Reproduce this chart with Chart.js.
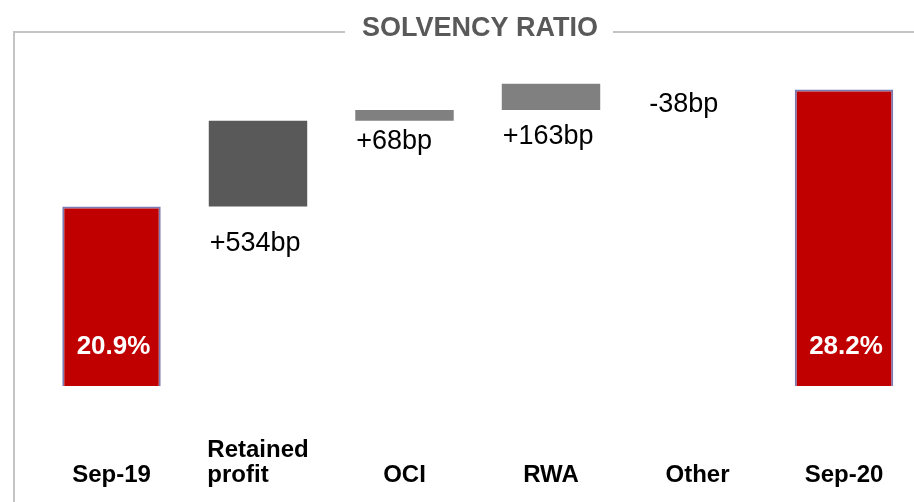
<!DOCTYPE html>
<html>
<head>
<meta charset="utf-8">
<title>Solvency ratio</title>
<script src="https://cdn.jsdelivr.net/npm/chart.js@4.4.1/dist/chart.umd.min.js"></script>
<style>
  html, body { margin: 0; padding: 0; background: #ffffff; }
  #wrap { position: relative; width: 914px; height: 502px; }
</style>
</head>
<body>
<div id="wrap"><canvas id="chart"></canvas></div>
<script>
// Solvency ratio bridge, Sep-19 to Sep-20
const categories = [["Sep-19"], ["Retained", "profit"], ["OCI"], ["RWA"], ["Other"], ["Sep-20"]];
const openingRatio = 20.9;          // %
const movementsBp = [534, 68, 163, -38];   // basis points
const closingRatio = 28.2;          // %

// Build the waterfall: totals as plain bars, movements as floating bars
const barData = [openingRatio];
let running = openingRatio;
movementsBp.forEach(bp => {
  const next = +(running + bp / 100).toFixed(2);
  barData.push([running, next]);
  running = next;
});
barData.push(closingRatio);

const totalRed = '#c00000';
const barColors = [totalRed, '#595959', '#808080', '#808080', '#ffffff', totalRed];
const borderColors = ['#7b7bb3', 'rgba(0,0,0,0)', 'rgba(0,0,0,0)', 'rgba(0,0,0,0)', 'rgba(0,0,0,0)', '#7b7bb3'];
const borderWidths = [2, 0, 0, 0, 0, 2];

// distance from the lower end of each movement bar to the label baseline
const deltaLabelOffset = [45, 28, 34, 22];

const FONT = '"Liberation Sans", Arial, Helvetica, sans-serif';

const framePlugin = {
  id: 'frame',
  beforeDraw(chart) {
    const ctx = chart.ctx;
    ctx.save();
    ctx.strokeStyle = '#c4c4c4';
    ctx.lineWidth = 2;
    ctx.beginPath();
    ctx.moveTo(14, 32); ctx.lineTo(345, 32);
    ctx.moveTo(613, 32); ctx.lineTo(914, 32);
    ctx.moveTo(14, 31); ctx.lineTo(14, 502);
    ctx.stroke();
    ctx.fillStyle = '#595959';
    ctx.font = 'bold 27px ' + FONT;
    ctx.textAlign = 'center';
    ctx.textBaseline = 'alphabetic';
    ctx.fillText('SOLVENCY RATIO', 480, 36);
    ctx.restore();
  }
};

const labelPlugin = {
  id: 'barLabels',
  afterDatasetsDraw(chart) {
    const ctx = chart.ctx;
    const meta = chart.getDatasetMeta(0);
    const area = chart.chartArea;
    ctx.save();
    meta.data.forEach((bar, i) => {
      const { x, y, base, width } = bar.getProps(['x', 'y', 'base', 'width'], true);
      if (i === 0 || i === meta.data.length - 1) {
        const v = i === 0 ? openingRatio : closingRatio;
        ctx.fillStyle = '#ffffff';
        ctx.font = 'bold 26px ' + FONT;
        ctx.textAlign = 'center';
        ctx.textBaseline = 'middle';
        ctx.fillText(v.toFixed(1) + '%', x + 2, area.bottom - 39);
      } else {
        const bp = movementsBp[i - 1];
        const lower = Math.max(y, base);
        ctx.fillStyle = '#000000';
        ctx.font = '27px ' + FONT;
        ctx.textAlign = 'left';
        ctx.textBaseline = 'alphabetic';
        ctx.fillText((bp > 0 ? '+' : '') + bp + 'bp', x - width / 2 + 1, lower + deltaLabelOffset[i - 1]);
      }
    });
    ctx.restore();
  },
  afterDraw(chart) {
    // category names under each bar
    const ctx = chart.ctx;
    const xScale = chart.scales.x;
    const area = chart.chartArea;
    ctx.save();
    ctx.fillStyle = '#000000';
    ctx.font = 'bold 24px ' + FONT;
    ctx.textAlign = 'left';
    ctx.textBaseline = 'alphabetic';
    const lineH = 25;
    categories.forEach((lines, i) => {
      const cx = xScale.getPixelForValue(i);
      const w = Math.max(...lines.map(l => ctx.measureText(l).width));
      const left = cx - w / 2;
      const lastBaseline = area.bottom + 96;
      lines.forEach((l, k) => {
        ctx.fillText(l, left, lastBaseline - (lines.length - 1 - k) * lineH);
      });
    });
    ctx.restore();
  }
};

new Chart(document.getElementById('chart'), {
  type: 'bar',
  data: {
    labels: categories.map(c => c.join(' ')),
    datasets: [{
      data: barData,
      backgroundColor: barColors,
      borderColor: borderColors,
      borderWidth: borderWidths,
      borderSkipped: 'start',
      barPercentage: 0.672,
      categoryPercentage: 1,
      clip: { left: false, right: false, top: false, bottom: 0 }
    }]
  },
  options: {
    responsive: true,
    maintainAspectRatio: false,
    animation: false,
    layout: { padding: { left: 111.5, right: 70, top: 60.6, bottom: 116 } },
    plugins: {
      legend: { display: false },
      tooltip: { enabled: false },
      title: { display: false }
    },
    scales: {
      x: { display: false, offset: false, grid: { display: false } },
      y: { display: false, min: 9.7, max: 30, grid: { display: false } }
    }
  },
  plugins: [framePlugin, labelPlugin]
});
</script>
</body>
</html>
